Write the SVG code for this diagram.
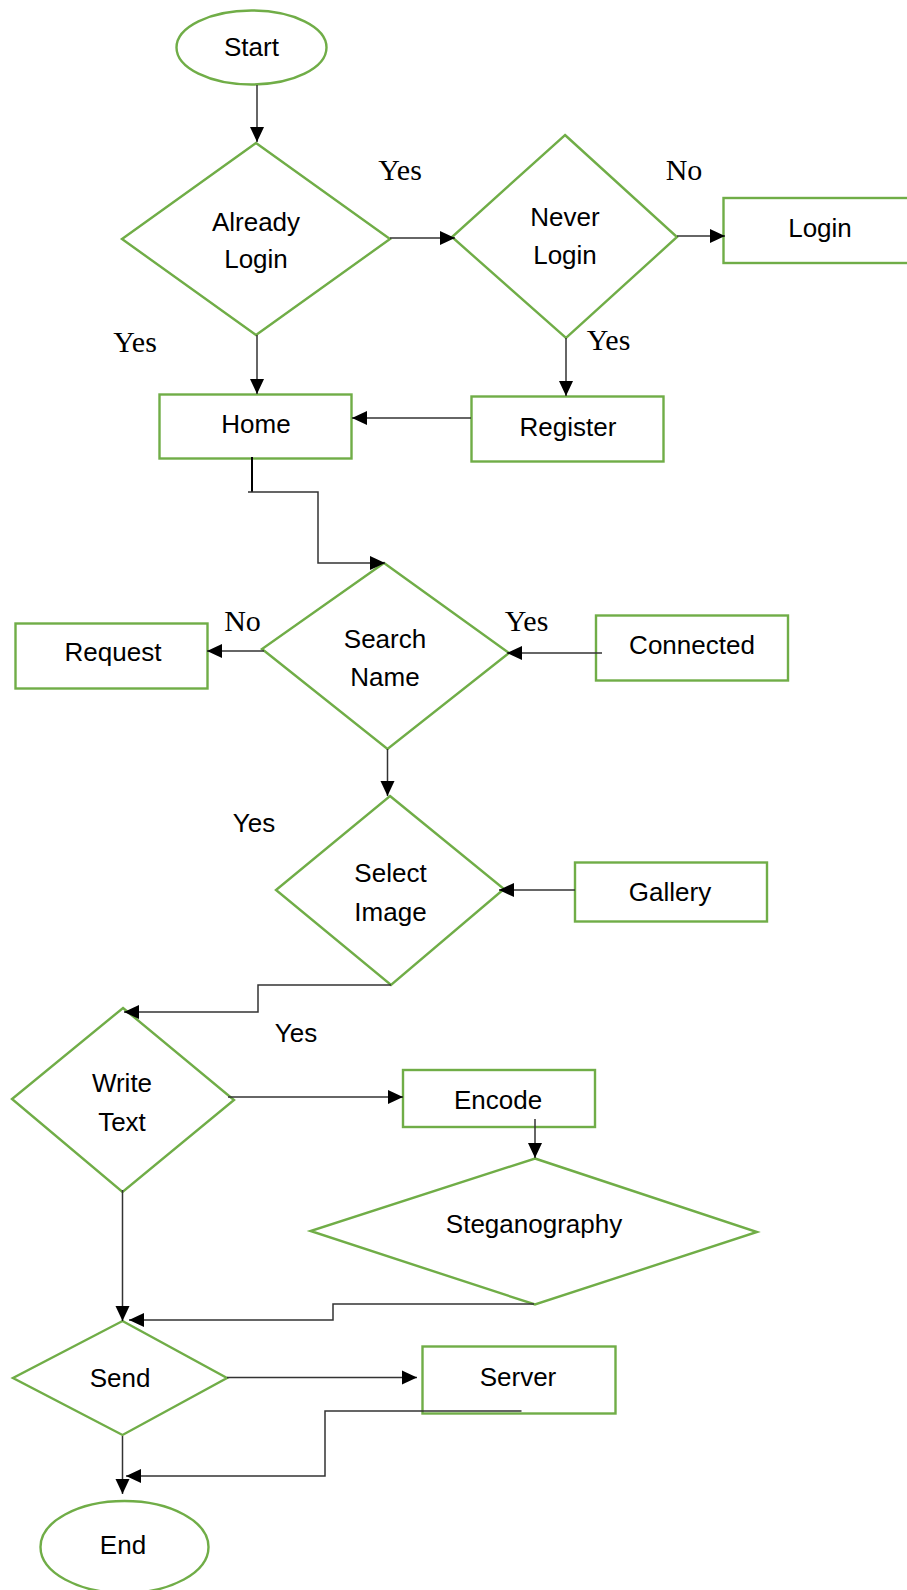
<svg xmlns="http://www.w3.org/2000/svg" width="907" height="1590" viewBox="0 0 907 1590">
<style>
.n{fill:#fff;stroke:#70AD47;stroke-width:2.4}
.t{font-family:"Liberation Sans",Arial,sans-serif;font-size:26px;fill:#000;text-anchor:middle}
.s{font-family:"Liberation Serif","Times New Roman",serif;font-size:30px;fill:#000;text-anchor:middle}
.c{fill:none;stroke:#333;stroke-width:1.5}
</style>
<defs>
<marker id="a" markerUnits="userSpaceOnUse" markerWidth="16" markerHeight="16" viewBox="0 0 16 16" refX="15" refY="8" orient="auto">
<path d="M0,1 L15,8 L0,15 Z" fill="#000"/>
</marker>
</defs>
<rect width="907" height="1590" fill="#fff"/>
<g id="start"><ellipse class="n" cx="251.5" cy="47.5" rx="75" ry="37"/><text class="t" x="251.5" y="56">Start</text></g>
<g id="already-login"><polygon class="n" points="256,143 390,239 256,335 122,239"/><text class="t" x="256" y="231">Already</text><text class="t" x="256" y="268">Login</text></g>
<g id="never-login"><polygon class="n" points="565,135 677,237 566,338 452,237"/><text class="t" x="565" y="226">Never</text><text class="t" x="565" y="264">Login</text></g>
<g id="login"><rect class="n" x="723.5" y="198" width="190" height="65"/><text class="t" x="820" y="237">Login</text></g>
<g id="home"><rect class="n" x="159.5" y="394.5" width="192" height="64"/><text class="t" x="256" y="433">Home</text></g>
<g id="register"><rect class="n" x="471.5" y="396.5" width="192" height="65"/><text class="t" x="568" y="436">Register</text></g>
<g id="search-name"><polygon class="n" points="384,563 509,653 387.5,749 262,649"/><text class="t" x="385" y="648">Search</text><text class="t" x="385" y="686">Name</text></g>
<g id="request"><rect class="n" x="15.5" y="623.5" width="192" height="65"/><text class="t" x="113" y="661">Request</text></g>
<g id="connected"><rect class="n" x="596" y="615.5" width="192" height="65"/><text class="t" x="692" y="654">Connected</text></g>
<g id="select-image"><polygon class="n" points="390,796 504,889 391,985 276,890"/><text class="t" x="390.5" y="882">Select</text><text class="t" x="390.5" y="921">Image</text></g>
<g id="gallery"><rect class="n" x="575" y="862.5" width="192" height="59"/><text class="t" x="670" y="901">Gallery</text></g>
<g id="write-text"><polygon class="n" points="123,1008 234,1100 122.5,1192 12,1099"/><text class="t" x="122" y="1092">Write</text><text class="t" x="122" y="1131">Text</text></g>
<g id="encode"><rect class="n" x="403" y="1070" width="192" height="57"/><text class="t" x="498" y="1109">Encode</text></g>
<g id="steganography"><polygon class="n" points="535,1158.5 757,1232 535,1304.5 310.5,1231"/><text class="t" x="534" y="1233">Steganography</text></g>
<g id="send"><polygon class="n" points="122.5,1321 227,1378 122.5,1435 13,1378"/><text class="t" x="120" y="1387">Send</text></g>
<g id="server"><rect class="n" x="422.5" y="1346.5" width="193" height="67"/><text class="t" x="518" y="1386">Server</text></g>
<g id="end"><ellipse class="n" cx="124.5" cy="1547" rx="84" ry="46"/><text class="t" x="123" y="1554">End</text></g>
<g id="connectors">
<line class="c" x1="257" y1="85" x2="257" y2="142" marker-end="url(#a)"/>
<line class="c" x1="390" y1="238" x2="455" y2="238" marker-end="url(#a)"/>
<line class="c" x1="677" y1="236" x2="725" y2="236" marker-end="url(#a)"/>
<line class="c" x1="257" y1="335" x2="257" y2="394" marker-end="url(#a)"/>
<line class="c" x1="566" y1="338" x2="566" y2="396" marker-end="url(#a)"/>
<line class="c" x1="471" y1="418" x2="352" y2="418" marker-end="url(#a)"/>
<line x1="252" y1="457" x2="252" y2="492" stroke="#000" stroke-width="2"/>
<polyline class="c" points="248,492 318,492 318,563 385,563" marker-end="url(#a)"/>
<line class="c" x1="264" y1="651" x2="207" y2="651" marker-end="url(#a)"/>
<line class="c" x1="602" y1="653" x2="507" y2="653" marker-end="url(#a)"/>
<line class="c" x1="387.5" y1="749" x2="387.5" y2="796" marker-end="url(#a)"/>
<line class="c" x1="575" y1="890" x2="499" y2="890" marker-end="url(#a)"/>
<polyline class="c" points="391,985 258,985 258,1012 124,1012" marker-end="url(#a)"/>
<line class="c" x1="228" y1="1097" x2="403" y2="1097" marker-end="url(#a)"/>
<line class="c" x1="535" y1="1119" x2="535" y2="1158" marker-end="url(#a)"/>
<line class="c" x1="122.5" y1="1190" x2="122.5" y2="1321" marker-end="url(#a)"/>
<polyline class="c" points="534,1304 333,1304 333,1320 129,1320" marker-end="url(#a)"/>
<line class="c" x1="227" y1="1377.5" x2="417" y2="1377.5" marker-end="url(#a)"/>
<polyline class="c" points="521.5,1411 325,1411 325,1476 126,1476" marker-end="url(#a)"/>
<line class="c" x1="122.5" y1="1436" x2="122.5" y2="1494" marker-end="url(#a)"/>
</g>
<g id="labels">
<text class="s" x="400" y="180">Yes</text>
<text class="s" x="684" y="180">No</text>
<text class="s" x="135" y="352">Yes</text>
<text class="s" x="608.5" y="350">Yes</text>
<text class="s" x="242.5" y="631">No</text>
<text class="s" x="526.5" y="631">Yes</text>
<text class="t" x="254" y="832">Yes</text>
<text class="t" x="296" y="1042">Yes</text>
</g>
</svg>
